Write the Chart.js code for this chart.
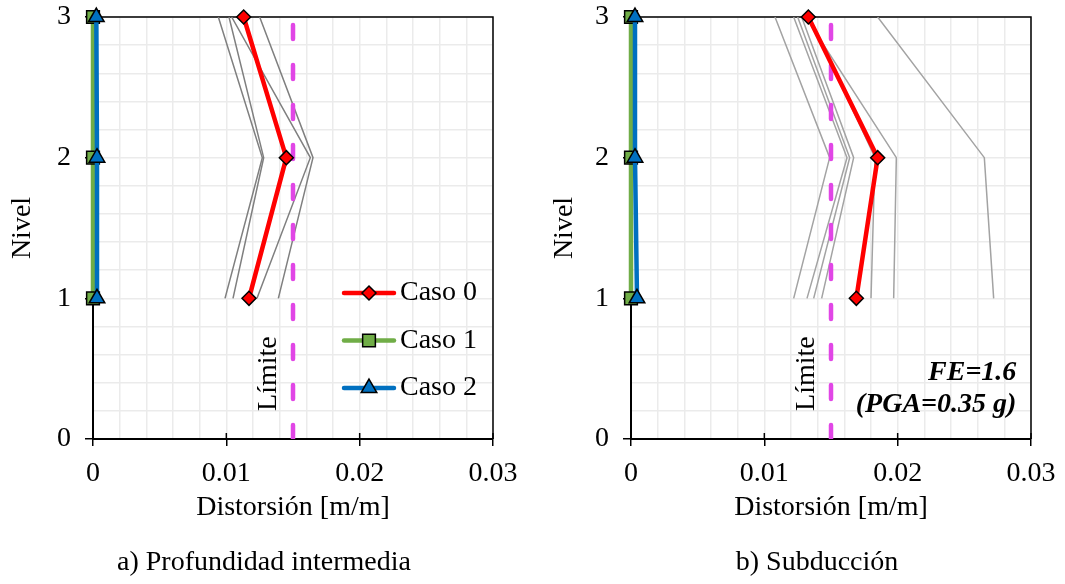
<!DOCTYPE html>
<html>
<head>
<meta charset="utf-8">
<script src="https://cdn.jsdelivr.net/npm/chart.js@4.4.1/dist/chart.umd.min.js"></script>
<style>
  body { margin: 0; background: #fff; }
  #wrap { position: relative; width: 1065px; height: 584px; }
  canvas { position: absolute; top: 0; }
</style>
</head>
<body>
<div id="wrap">
  <canvas id="chartA" width="538" height="584" style="left:0"></canvas>
  <canvas id="chartB" width="527" height="584" style="left:538px"></canvas>
</div>
<script>
// niveles (eje y) y ticks
const levels = [1, 2, 3];
const xMajor = [0, 0.01, 0.02, 0.03];
const yMajor = [0, 1, 2, 3];
const limite = 0.015;

// a) Profundidad intermedia  (valores en niveles 1, 2, 3)
const caso0A = [0.0117, 0.0145, 0.0113];
const caso1A = [0, 0, 0];
const caso2A = [0.0003, 0.0003, 0.00025];
const grisA = [
  [0.0099, 0.0127, 0.0094],
  [0.0105, 0.0128, 0.0102],
  [0.0123, 0.0163, 0.0104],
  [0.0139, 0.0165, 0.0125]
];

// b) Subduccion
const caso0B = [0.0169, 0.0185, 0.0133];
const caso1B = [0, 0, 0];
const caso2B = [0.00045, 0.0003, 0.0003];
const grisB = [
  [0.0122, 0.0149, 0.0108],
  [0.0132, 0.0162, 0.0122],
  [0.0137, 0.0164, 0.0125],
  [0.0143, 0.0167, 0.0128],
  [0.0197, 0.0199, 0.0131],
  [0.0272, 0.0265, 0.0185],
  [0.0180, 0.0183, 0.0134]
];

const FONT = '"Liberation Serif", "Times New Roman", serif';

const pts = vals => vals.map((v, i) => ({ x: v, y: levels[i] }));
const near = (v, list) => list.some(m => Math.abs(v - m) < 1e-9);

function buildDatasets(caso0, caso1, caso2, gris, grayColor) {
  const ds = gris.map(g => ({
    data: pts(g), borderColor: grayColor, borderWidth: 1.5,
    pointRadius: 0, order: 10
  }));
  ds.push({
    data: [{ x: limite, y: 0 }, { x: limite, y: 3 }],
    borderColor: '#e146e6', borderWidth: 4.5, borderDash: [14, 26],
    borderCapStyle: 'round', pointRadius: 0, order: 5
  });
  ds.push({
    label: 'Caso 0', data: pts(caso0), borderColor: '#ff0000', borderWidth: 4.5,
    pointStyle: 'rectRot', pointRadius: 7, pointBackgroundColor: '#ff0000',
    pointBorderColor: '#000', pointBorderWidth: 1.5, order: 3, clip: false
  });
  ds.push({
    label: 'Caso 1', data: pts(caso1), borderColor: '#70ad47', borderWidth: 4.5,
    pointStyle: 'rect', pointRadius: 9, pointBackgroundColor: '#70ad47',
    pointBorderColor: '#000', pointBorderWidth: 1.5, order: 2, clip: false
  });
  ds.push({
    label: 'Caso 2', data: pts(caso2), borderColor: '#0070c0', borderWidth: 4.5,
    pointStyle: 'triangle', pointRadius: 9, pointBackgroundColor: '#0070c0',
    pointBorderColor: '#000', pointBorderWidth: 1.5, order: 1, clip: false
  });
  return ds;
}

// marco superior/derecho, marcas internas
const frame = {
  id: 'frame',
  beforeDatasetsDraw(chart) {
    const { ctx, chartArea: a, scales: { x } } = chart;
    ctx.save();
    ctx.strokeStyle = '#000';
    ctx.lineWidth = 1.5;
    ctx.beginPath();
    ctx.moveTo(a.left, a.top);
    ctx.lineTo(a.right, a.top);
    ctx.lineTo(a.right, a.bottom);
    ctx.stroke();
    xMajor.forEach(v => {
      const px = x.getPixelForValue(v);
      ctx.beginPath();
      ctx.moveTo(px, a.bottom);
      ctx.lineTo(px, a.bottom - 6);
      ctx.stroke();
    });
    ctx.restore();
  }
};

// textos, leyenda
const extras = {
  id: 'extras',
  afterDatasetsDraw(chart, args, opts) {
    const { ctx, chartArea: a, scales: { x, y } } = chart;
    ctx.save();
    ctx.fillStyle = '#000';
    ctx.font = '28px ' + FONT;
    ctx.textBaseline = 'middle';

    // Limite
    ctx.save();
    ctx.translate(x.getPixelForValue(0.0132), y.getPixelForValue(0.465));
    ctx.rotate(-Math.PI / 2);
    ctx.textAlign = 'center';
    ctx.fillText('Límite', 0, 0);
    ctx.restore();

    // titulo inferior
    ctx.textAlign = 'center';
    ctx.fillText(opts.caption, opts.captionX, 563);

    if (opts.note) {
      ctx.font = 'bold italic 28px ' + FONT;
      ctx.textAlign = 'right';
      ctx.fillText('FE=1.6', x.getPixelForValue(0.0289), y.getPixelForValue(0.47));
      ctx.fillText('(PGA=0.35 g)', x.getPixelForValue(0.0289), y.getPixelForValue(0.245));
    }

    if (opts.legend) {
      const items = chart.data.datasets.filter(d => d.label);
      items.forEach((d, i) => {
        const ly = a.top + 276 + i * 47.5;
        ctx.strokeStyle = d.borderColor;
        ctx.lineWidth = 4.5;
        ctx.lineCap = 'round';
        ctx.beginPath();
        ctx.moveTo(a.left + 251, ly);
        ctx.lineTo(a.left + 301, ly);
        ctx.stroke();
        ctx.fillStyle = d.pointBackgroundColor;
        ctx.strokeStyle = d.pointBorderColor;
        ctx.lineWidth = d.pointBorderWidth;
        Chart.helpers.drawPoint(ctx, {
          pointStyle: d.pointStyle, radius: d.pointRadius, rotation: 0,
          borderWidth: d.pointBorderWidth
        }, a.left + 276, ly);
        ctx.fillStyle = '#000';
        ctx.font = '28px ' + FONT;
        ctx.textAlign = 'left';
        ctx.fillText(d.label, a.left + 307, ly);
      });
    }
    ctx.restore();
  }
};

function makeChart(id, datasets, extraOpts, yTitlePad, padRight) {
  return new Chart(document.getElementById(id), {
    type: 'scatter',
    data: { datasets },
    options: {
      responsive: false,
      animation: false,
      showLine: true,
      layout: { padding: { top: 17, left: 0, right: padRight, bottom: 0 } },
      elements: { line: { tension: 0 } },
      plugins: {
        legend: { display: false },
        tooltip: { enabled: false },
        extras: extraOpts
      },
      scales: {
        x: {
          type: 'linear', min: 0, max: 0.03,
          afterFit: s => { s.height = 145; s.paddingLeft = 0; s.paddingRight = 0; },
          border: { color: '#000', width: 2 },
          grid: {
            color: '#ebebeb', lineWidth: 1.5, tickLength: 7, tickWidth: 1.5,
            tickColor: c => near(c.tick.value, xMajor) ? '#000' : 'rgba(0,0,0,0)'
          },
          ticks: {
            stepSize: 0.002, autoSkip: false, maxRotation: 0, padding: 11,
            color: '#000', font: { family: FONT, size: 28 },
            callback: v => near(v, xMajor) ? String(Math.round(v * 100) / 100) : ''
          },
          title: {
            display: true, text: 'Distorsión [m/m]', color: '#000',
            font: { family: FONT, size: 28 }, padding: { top: 0, bottom: 60 }
          }
        },
        y: {
          type: 'linear', min: 0, max: 3,
          afterFit: s => { s.width = 93; s.paddingTop = 0; s.paddingBottom = 0; },
          border: { color: '#000', width: 2 },
          grid: {
            color: '#ebebeb', lineWidth: 1.5, tickLength: 8, tickWidth: 1.5,
            tickColor: c => near(c.tick.value, yMajor) ? '#000' : 'rgba(0,0,0,0)'
          },
          ticks: {
            stepSize: 0.2, autoSkip: false, padding: 14,
            color: '#000', font: { family: FONT, size: 28 },
            callback: v => near(v, yMajor) ? String(Math.round(v)) : ''
          },
          title: {
            display: true, text: 'Nivel', color: '#000',
            font: { family: FONT, size: 28 }, padding: { top: yTitlePad, bottom: 0 }
          }
        }
      }
    },
    plugins: [frame, extras]
  });
}

makeChart('chartA', buildDatasets(caso0A, caso1A, caso2A, grisA, '#7f7f7f'),
  { caption: 'a) Profundidad intermedia', captionX: 264, legend: true, note: false }, 6, 45);
makeChart('chartB', buildDatasets(caso0B, caso1B, caso2B, grisB, '#a3a3a3'),
  { caption: 'b) Subducción', captionX: 279, legend: false, note: true }, 10, 34);
</script>
</body>
</html>
